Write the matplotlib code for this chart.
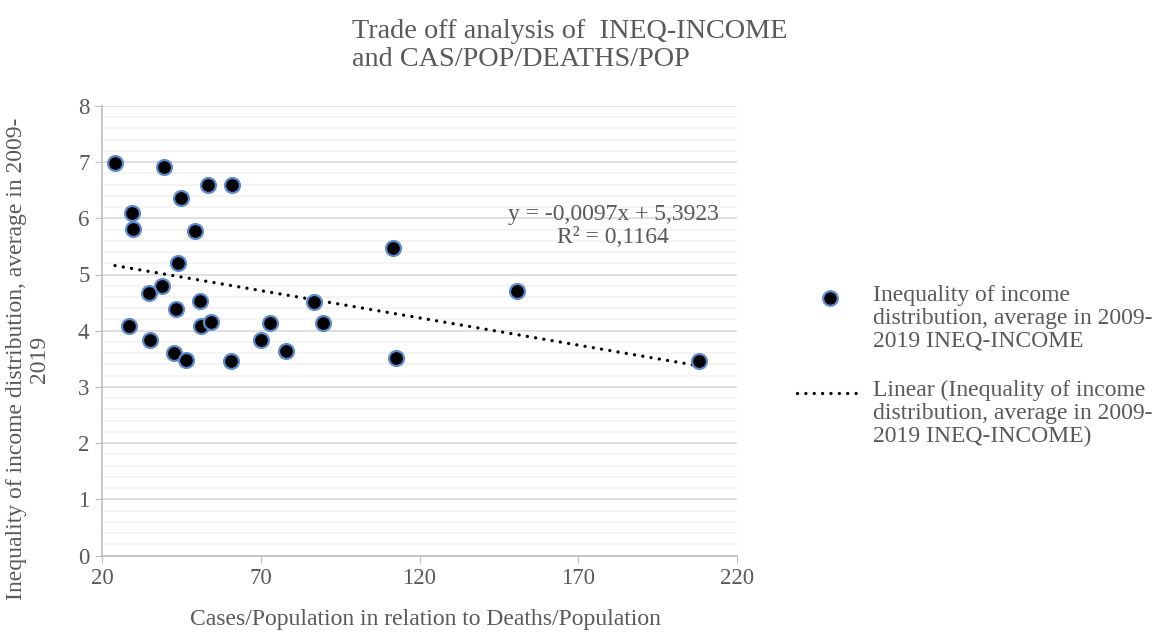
import numpy as np
import matplotlib
matplotlib.use('Agg')
import matplotlib.pyplot as plt
from matplotlib.lines import Line2D

# cases/population relative to deaths/population
cases_deaths = [24.1, 39.4, 53.3, 60.9, 44.9, 29.4, 29.9, 49.3, 43.9, 111.6,
                150.6, 39.0, 34.9, 86.9, 50.8, 43.4, 28.6, 51.3, 54.3, 72.8,
                89.7, 35.0, 70.0, 42.8, 46.3, 77.9, 60.6, 112.7, 208.0]
ineq_income = [6.98, 6.91, 6.59, 6.60, 6.37, 6.09, 5.81, 5.77, 5.20, 5.48,
               4.70, 4.79, 4.67, 4.51, 4.53, 4.39, 4.08, 4.09, 4.16, 4.14,
               4.14, 3.83, 3.83, 3.60, 3.48, 3.64, 3.46, 3.51, 3.46]
x_ticks = [20, 70, 120, 170, 220]
y_ticks = [0, 1, 2, 3, 4, 5, 6, 7, 8]
trend_slope = -0.0097
trend_icpt = 5.3923

grey = '#595959'
edge = '#5b8bd0'
dots = (0, (0.01, 2.5))
plt.rcParams['font.family'] = ['Liberation Serif', 'DejaVu Serif']

fig = plt.figure(figsize=(11.64, 6.35), dpi=100)
W, H = 1164.0, 635.0
ax = fig.add_axes([102 / W, 1 - 555.5 / H, 635 / W, 449.6 / H])

ax.set_xlim(20, 220)
ax.set_ylim(0, 8)
ax.set_xticks(x_ticks)
ax.set_yticks(y_ticks)
ax.set_yticks(np.arange(0, 8.01, 0.2), minor=True)
ax.grid(which='major', axis='y', color='#d9d9d9', lw=1.2, zorder=0)
ax.grid(which='minor', axis='y', color='#f2f2f2', lw=1.2, zorder=0)
ax.tick_params(which='minor', length=0)
ax.tick_params(which='major', colors='#bfbfbf', labelcolor=grey,
               labelsize=16.5, length=5, pad=4)
for s in ['top', 'right']:
    ax.spines[s].set_visible(False)
for s in ['left', 'bottom']:
    ax.spines[s].set_color('#bfbfbf')
    ax.spines[s].set_linewidth(1.2)

xs = np.array(cases_deaths)
xt = np.array([xs.min(), xs.max()])
ax.plot(xt, trend_slope * xt + trend_icpt, color='black', lw=2.4,
        linestyle=dots, dash_capstyle='round', zorder=3)
ax.scatter(cases_deaths, ineq_income, s=115, facecolor='black',
           edgecolor=edge, linewidth=1.6, zorder=4)

ax.text(181, 5.86, 'y = -0,0097x + 5,3923\nR² = 0,1164', ha='center',
        va='center', fontsize=17, color=grey, linespacing=1.1)

fig.text(425 / W, 1 - 620 / H, 'Cases/Population in relation to Deaths/Population',
         ha='center', va='center', fontsize=17, color=grey)
fig.text(28 / W, 1 - 359 / H,
         'Inequality of income distribution, average in 2009-\n2019',
         ha='center', va='center', rotation=90, multialignment='center',
         fontsize=17, color=grey, linespacing=1.1)

fig.text(352 / W, 1 - 19 / H, 'Trade off analysis of  INEQ-INCOME\nand CAS/POP/DEATHS/POP',
         ha='left', va='top', fontsize=20.3, color=grey, linespacing=1.15)

# legend
fig.add_artist(Line2D([830 / W], [1 - 298 / H], marker='o', ls='none',
                      markersize=10.5, markerfacecolor='black',
                      markeredgecolor=edge, markeredgewidth=1.6))
fig.add_artist(Line2D([797 / W, 862 / W], [1 - 393 / H, 1 - 393 / H],
                      color='black', lw=2.4, linestyle=dots,
                      dash_capstyle='round'))
fig.text(873 / W, 1 - 285 / H,
         'Inequality of income\ndistribution, average in 2009-\n2019 INEQ-INCOME',
         ha='left', va='top', fontsize=17, color=grey, linespacing=1.1)
fig.text(873 / W, 1 - 380 / H,
         'Linear (Inequality of income\ndistribution, average in 2009-\n2019 INEQ-INCOME)',
         ha='left', va='top', fontsize=17, color=grey, linespacing=1.1)

fig.savefig('out.png', dpi=100)
